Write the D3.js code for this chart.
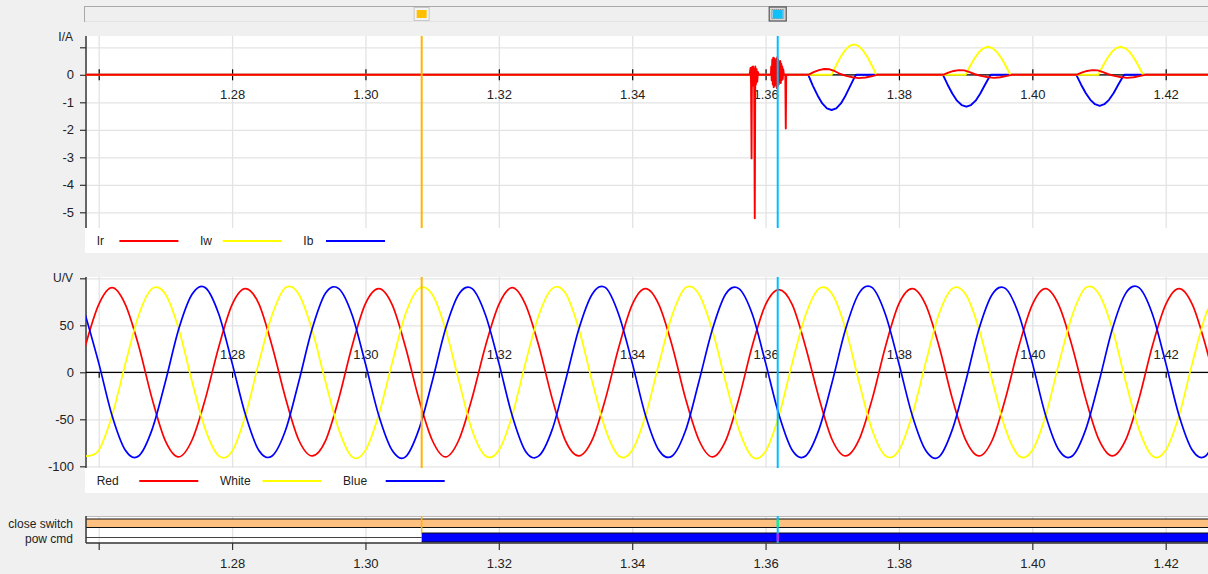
<!DOCTYPE html>
<html><head><meta charset="utf-8">
<script src="https://cdn.jsdelivr.net/npm/d3@7"></script>
<style>
html,body{margin:0;padding:0;background:#f0f0f0;overflow:hidden;}
svg{display:block;font-family:"Liberation Sans",Arial,sans-serif;}
</style></head><body><svg id="c" width="1208" height="574"></svg>
<script>
// ---------------- DATA ----------------
const xTicks = [1.26, 1.28, 1.30, 1.32, 1.34, 1.36, 1.38, 1.40, 1.42];
const xTickLabels = ["", "1.28", "1.30", "1.32", "1.34", "1.36", "1.38", "1.40", "1.42"];
const iTicks = [1, 0, -1, -2, -3, -4, -5];
const iTickLabels = ["", "0", "-1", "-2", "-3", "-4", "-5"];
const uTicks = [100, 50, 0, -50, -100];
const uTickLabels = ["", "50", "0", "-50", "-100"];
const currentNames = ["Ir", "Iw", "Ib"];
const voltageNames = ["Red", "White", "Blue"];
const digitalNames = ["close switch", "pow cmd"];
const cursorTimes = [1.30843, 1.36182];

const voltTime = [1.258,1.260,1.262,1.264,1.266,1.268,1.270,1.272,1.274,1.276,
1.278,1.280,1.282,1.284,1.286,1.288,1.290,1.292,1.294,1.296,
1.298,1.300,1.302,1.304,1.306,1.308,1.310,1.312,1.314,1.316,
1.318,1.320,1.322,1.324,1.326,1.328,1.330,1.332,1.334,1.336,
1.338,1.340,1.342,1.344,1.346,1.348,1.350,1.352,1.354,1.356,
1.358,1.360,1.362,1.364,1.366,1.368,1.370,1.372,1.374,1.376,
1.378,1.380,1.382,1.384,1.386,1.388,1.390,1.392,1.394,1.396,
1.398,1.400,1.402,1.404,1.406,1.408,1.410,1.412,1.414,1.416,
1.418,1.420,1.422,1.424,1.426,1.428];
const uRed = [28,72,90,72,28,-28,-73,-90,-72,-28,
27,72,89,73,28,-27,-72,-89,-73,-28,
28,73,89,72,27,-28,-72,-90,-72,-27,
28,72,90,72,28,-28,-73,-89,-72,-28,
27,72,89,72,28,-28,-72,-90,-73,-28,
28,72,88,72,27,-27,-72,-89,-72,-28,
28,73,89,72,28,-28,-72,-89,-72,-27,
28,72,89,71,27,-28,-72,-89,-72,-28,
28,72,89,72,28,-28];
const uWhite = [-89,-83,-46,9,61,89,83,46,-10,-61,
-89,-84,-46,10,61,90,83,45,-10,-61,
-90,-83,-45,10,62,89,83,46,-9,-62,
-89,-83,-46,10,61,89,84,46,-10,-61,
-89,-83,-46,9,61,90,83,45,-10,-61,
-90,-84,-46,10,61,89,83,46,-10,-62,
-89,-83,-45,10,62,89,83,46,-9,-61,
-89,-83,-46,10,61,90,83,46,-10,-61,
-89,-83,-46,10,61,89];
const uBlue = [61,10,-46,-83,-89,-61,-10,46,83,90,
62,10,-45,-83,-89,-62,-10,46,84,89,
61,9,-46,-83,-90,-61,-10,46,83,89,
61,10,-46,-84,-89,-61,-9,46,83,90,
61,10,-46,-83,-89,-62,-10,45,83,89,
62,10,-45,-83,-89,-61,-10,46,84,90,
61,9,-46,-83,-90,-61,-10,46,83,89,
61,10,-46,-83,-89,-61,-10,46,84,90,
62,10,-46,-83,-89,-61];

const irTime = [1.2575, 1.3576, 1.35775, 1.35782, 1.35790, 1.35796, 1.35805, 1.35812, 1.35820, 1.35828, 1.35838, 1.35846, 1.35855, 1.35865, 1.35875, 1.35885, 1.3590,
1.3608, 1.36085, 1.36092, 1.36100, 1.36108, 1.36115, 1.36122, 1.36130, 1.36138, 1.36145, 1.36152, 1.36160, 1.36168, 1.36175, 1.36182, 1.36190, 1.36198, 1.36205, 1.36212, 1.36220, 1.36228, 1.36235, 1.36242, 1.36250, 1.36258, 1.36265, 1.36275, 1.36296, 1.36303, 1.36310,
1.3664, 1.3672, 1.3680, 1.3688, 1.3696, 1.3704, 1.3712, 1.3721, 1.3730, 1.3740, 1.3750, 1.3760, 1.3767,
1.3866, 1.3874, 1.3882, 1.3890, 1.3898, 1.3906, 1.3914, 1.3923, 1.3932, 1.3942, 1.3952, 1.3962, 1.3969,
1.4066, 1.4074, 1.4082, 1.4090, 1.4098, 1.4106, 1.4114, 1.4123, 1.4132, 1.4142, 1.4152, 1.4162, 1.4169,
1.4275];
const irValue = [0, 0, 0.25, -0.3, -3.04, 0.28, -0.32, 0.3, -0.4, 0.22, -5.22, 0.3, -0.35, 0.2, -0.25, 0.1, 0,
0, 0.3, -0.2, 0.55, -0.35, 0.62, -0.45, 0.6, -0.4, 0.5, -0.3, 0.58, -0.48, 0.64, -0.42, 0.55, -0.35, 0.45, -0.25, 0.5, -0.3, 0.4, -0.2, 0.3, -0.15, 0.2, 0, 0, -1.95, 0,
0, 0.1, 0.17, 0.21, 0.2, 0.13, 0.03, -0.04, -0.09, -0.12, -0.1, -0.05, 0,
0, 0.08, 0.14, 0.17, 0.16, 0.1, 0.02, -0.04, -0.08, -0.11, -0.09, -0.04, 0,
0, 0.08, 0.14, 0.17, 0.16, 0.1, 0.02, -0.04, -0.08, -0.11, -0.09, -0.04, 0,
0];
const iwTime = [1.2575, 1.3699, 1.37057, 1.37124, 1.37191, 1.37258, 1.37325, 1.37392, 1.37459, 1.37526, 1.37593, 1.3766,
1.3900, 1.39067, 1.39134, 1.39201, 1.39268, 1.39335, 1.39402, 1.39469, 1.39536, 1.39603, 1.3967,
1.4099, 1.41057, 1.41124, 1.41191, 1.41258, 1.41325, 1.41392, 1.41459, 1.41526, 1.41593, 1.4166, 1.4275];
const iwValue = [0, 0, 0.34, 0.65, 0.89, 1.05, 1.11, 1.05, 0.89, 0.65, 0.34, 0,
0, 0.32, 0.6, 0.83, 0.97, 1.02, 0.97, 0.83, 0.6, 0.32, 0,
0, 0.32, 0.6, 0.83, 0.97, 1.02, 0.97, 0.83, 0.6, 0.32, 0, 0];
const ibTime = [1.2575, 1.3664, 1.3671, 1.3678, 1.3685, 1.3692, 1.3699, 1.3706, 1.3713, 1.3720, 1.3727, 1.3734, 1.3736,
1.3866, 1.3873, 1.3880, 1.3887, 1.3894, 1.3901, 1.3908, 1.3915, 1.3922, 1.3929, 1.3936, 1.3938,
1.4066, 1.4073, 1.4080, 1.4087, 1.4094, 1.4101, 1.4108, 1.4115, 1.4122, 1.4129, 1.4136, 1.4138, 1.4275];
const ibValue = [0, 0, -0.40, -0.75, -1.04, -1.22, -1.28, -1.22, -1.04, -0.75, -0.40, -0.06, 0,
0, -0.36, -0.68, -0.94, -1.10, -1.16, -1.10, -0.94, -0.68, -0.36, -0.06, 0,
0, -0.35, -0.66, -0.91, -1.07, -1.13, -1.07, -0.91, -0.66, -0.35, -0.06, 0, 0];

const closeSwitchTime = [1.2575];
const closeSwitchState = [1];
const powCmdTime = [1.2575, 1.30843];
const powCmdState = [0, 1];
const digitalEnd = 1.4275;

// ---------------- LAYOUT ----------------
const W = 1208, H = 574, L = 86, R = 1208;
const P1 = {top: 36, bottom: 228, legB: 253};
const P2 = {top: 277, bottom: 468, legB: 493};
const PD = {top: 516, bottom: 543};
const GRID = "#e3e3e3", AX = "#333", TXT = "#222";
const cRed = "#ff0000", cYel = "#ffff00", cBlue = "#0000ff";
const cursorCols = ["#ffb400", "#00bfff"];

const x = d3.scaleLinear().domain([1.26, 1.42]).range([98.7, 1165.7]);
const yI = d3.scaleLinear().domain([0, -5]).range([74.8, 212.3]);
const yU = d3.scaleLinear().domain([0, -100]).range([372.3, 466.3]);

const svg = d3.select("#c");
svg.append("rect").attr("width", W).attr("height", H).attr("fill", "#f0f0f0");

const defs = svg.append("defs");
function clip(id, top, bottom) {
  defs.append("clipPath").attr("id", id).append("rect")
    .attr("x", L).attr("y", top).attr("width", R - L).attr("height", bottom - top);
}
clip("c1", P1.top, P1.bottom); clip("c2", P2.top, P2.bottom);

// ---- scrollbar ----
const sb = svg.append("g");
sb.append("rect").attr("x", 84.5).attr("y", 6.5).attr("width", 1130).attr("height", 15)
  .attr("fill", "#efefef").attr("stroke", "#a9a9a9");
sb.append("line").attr("x1", 85).attr("x2", R).attr("y1", 21.5).attr("y2", 21.5).attr("stroke", "#e4e4e4");
// cursor markers
const cx0 = x(cursorTimes[0]);
sb.append("rect").attr("x", cx0 - 7.5).attr("y", 7.5).attr("width", 15).attr("height", 13)
  .attr("fill", "#f4f4f4").attr("stroke", "#c8c8c8");
sb.append("rect").attr("x", cx0 - 5).attr("y", 10).attr("width", 10).attr("height", 8).attr("fill", "#ffc000");
const cx1 = x(cursorTimes[1]);
sb.append("rect").attr("x", cx1 - 8.5).attr("y", 7).attr("width", 17).attr("height", 14)
  .attr("fill", "#d8d8d8").attr("stroke", "#555").attr("stroke-width", 1.2);
sb.append("rect").attr("x", cx1 - 6).attr("y", 9.5).attr("width", 12).attr("height", 9)
  .attr("fill", "none").attr("stroke", "#777").attr("stroke-dasharray", "1,1");
sb.append("rect").attr("x", cx1 - 5).attr("y", 10).attr("width", 10).attr("height", 8.5).attr("fill", "#10c0f8");

// ---- generic panel ----
function panel(top, bottom, legB, y, ticks, labels, unit) {
  const g = svg.append("g");
  g.append("rect").attr("x", L - 1).attr("y", top).attr("width", R - L + 1).attr("height", legB - top).attr("fill", "#fff");
  // grid vertical
  g.append("g").attr("transform", `translate(0,${bottom})`)
    .call(d3.axisBottom(x).tickValues(xTicks).tickSize(-(bottom - top)).tickFormat(""))
    .call(s => { s.select(".domain").remove(); s.selectAll("line").attr("stroke", GRID).attr("stroke-width", 1.3); });
  // grid horizontal
  g.append("g").attr("transform", `translate(${L},0)`)
    .call(d3.axisLeft(y).tickValues(ticks).tickSize(-(R - L)).tickFormat(""))
    .call(s => { s.select(".domain").remove(); s.selectAll("line").attr("stroke", GRID).attr("stroke-width", 1.3); });
  // y axis
  g.append("g").attr("transform", `translate(${L},0)`)
    .call(d3.axisLeft(y).tickValues(ticks).tickSize(6).tickPadding(6).tickFormat((d, i) => labels[i]))
    .call(s => {
      s.select(".domain").remove();
      s.selectAll("line").attr("stroke", AX).attr("stroke-width", 1.2);
      s.selectAll("text").attr("fill", TXT).style("font-size", "13px").attr("font-family", null);
    });
  g.append("line").attr("x1", L).attr("x2", L).attr("y1", top).attr("y2", bottom).attr("stroke", AX).attr("stroke-width", 1.5);
  g.append("text").attr("x", 73).attr("y", top + 1).attr("dy", "0.35em").attr("text-anchor", "end")
    .attr("fill", TXT).style("font-size", "12px").text(unit);
  return g;
}

function xAxisAt(g, yPos, tickUp, tickDown, labelOffset) {
  g.append("line").attr("x1", L).attr("x2", R).attr("y1", yPos).attr("y2", yPos).attr("stroke", "#000").attr("stroke-width", 1.2);
  g.append("g").attr("transform", `translate(0,${yPos})`)
    .call(d3.axisBottom(x).tickValues(xTicks).tickSize(tickDown).tickFormat((d, i) => xTickLabels[i]))
    .call(s => {
      s.select(".domain").remove();
      s.selectAll("line").attr("y1", -tickUp).attr("stroke", "#000").attr("stroke-width", 1.2);
      s.selectAll("text").attr("y", labelOffset).attr("dy", "0.35em").attr("fill", TXT)
        .style("font-size", "13px").attr("font-family", null);
    });
}

function legend(g, yPos, names, colors, lineOff) {
  let x0 = 96.7;
  names.forEach((n, i) => {
    g.append("text").attr("x", x0).attr("y", yPos).attr("dy", "0.35em").attr("fill", TXT)
      .style("font-size", "12px").text(n);
    g.append("line").attr("x1", x0 + lineOff).attr("x2", x0 + lineOff + 59).attr("y1", yPos).attr("y2", yPos)
      .attr("stroke", colors[i]).attr("stroke-width", 1.8);
    x0 += lineOff + 59 + 21.6;
  });
}

// ---- Panel 1: currents ----
const g1 = panel(P1.top, P1.bottom, P1.legB, yI, iTicks, iTickLabels, "I/A");
xAxisAt(g1, yI(0), 5.5, 5.5, 19.3);
const lineI = d3.line().x(d => x(d[0])).y(d => yI(d[1])).curve(d3.curveLinear);
const s1 = g1.append("g").attr("clip-path", "url(#c1)");
[[ibTime, ibValue, cBlue], [iwTime, iwValue, cYel], [irTime, irValue, cRed]].forEach(([t, v, c]) => {
  s1.append("path").attr("d", lineI(t.map((tt, i) => [tt, v[i]])))
    .attr("fill", "none").attr("stroke", c).attr("stroke-width", 1.9).attr("stroke-linejoin", "round");
});
legend(g1, 241, currentNames, [cRed, cYel, cBlue], 22.7);

// ---- Panel 2: voltages ----
const g2 = panel(P2.top, P2.bottom, P2.legB, yU, uTicks, uTickLabels, "U/V");
xAxisAt(g2, yU(0), 0, 5.5, -18.3);
const lineU = d3.line().x(d => x(d[0])).y(d => yU(d[1])).curve(d3.curveCardinal.tension(0));
const s2 = g2.append("g").attr("clip-path", "url(#c2)");
[[uRed, cRed], [uWhite, cYel], [uBlue, cBlue]].forEach(([v, c]) => {
  s2.append("path").attr("d", lineU(voltTime.map((t, i) => [t, v[i]])))
    .attr("fill", "none").attr("stroke", c).attr("stroke-width", 1.7);
});
legend(g2, 481, voltageNames, [cRed, cYel, cBlue], 42.6);

// ---- Digital panel ----
const gd = svg.append("g");
gd.append("rect").attr("x", L - 1).attr("y", PD.top).attr("width", R - L + 1).attr("height", PD.bottom - PD.top).attr("fill", "#fff");
gd.append("g").attr("transform", `translate(0,${PD.bottom})`)
  .call(d3.axisBottom(x).tickValues(xTicks).tickSize(-(PD.bottom - PD.top)).tickFormat(""))
  .call(s => { s.select(".domain").remove(); s.selectAll("line").attr("stroke", GRID).attr("stroke-width", 1.3); });
gd.append("line").attr("x1", L).attr("x2", R).attr("y1", PD.top + 0.5).attr("y2", PD.top + 0.5).attr("stroke", "#bbb");

const rows = [
  {name: digitalNames[0], t: closeSwitchTime, s: closeSwitchState, y0: 519, y1: 527.5, color: "#ffc080", mid: 523},
  {name: digitalNames[1], t: powCmdTime, s: powCmdState, y0: 533, y1: 542, color: "#0000ff", mid: 537.5}
];
rows.forEach(r => {
  gd.append("text").attr("x", 73).attr("y", r.mid + 1).attr("dy", "0.35em").attr("text-anchor", "end")
    .attr("fill", TXT).style("font-size", "12px").text(r.name);
  r.t.forEach((t0, i) => {
    const t1 = i + 1 < r.t.length ? r.t[i + 1] : digitalEnd;
    const xa = Math.max(L, x(t0)), xb = Math.min(R, x(t1));
    if (r.s[i] === 1) {
      gd.append("rect").attr("x", xa).attr("y", r.y0).attr("width", xb - xa).attr("height", r.y1 - r.y0).attr("fill", r.color);
      gd.append("line").attr("x1", xa).attr("x2", xb).attr("y1", r.y0).attr("y2", r.y0).attr("stroke", "#111").attr("stroke-width", 1.2);
      gd.append("line").attr("x1", xa).attr("x2", xb).attr("y1", r.y1).attr("y2", r.y1).attr("stroke", "#111").attr("stroke-width", 1.2);
    } else {
      gd.append("line").attr("x1", xa).attr("x2", xb).attr("y1", r.mid).attr("y2", r.mid).attr("stroke", "#444").attr("stroke-width", 1.2);
    }
  });
});
gd.append("line").attr("x1", L).attr("x2", L).attr("y1", PD.top).attr("y2", PD.bottom).attr("stroke", AX).attr("stroke-width", 1.5);
gd.append("line").attr("x1", L).attr("x2", R).attr("y1", PD.bottom).attr("y2", PD.bottom).attr("stroke", AX).attr("stroke-width", 1.3);
gd.append("g").attr("transform", `translate(0,${PD.bottom})`)
  .call(d3.axisBottom(x).tickValues(xTicks).tickSize(7).tickFormat((d, i) => xTickLabels[i]))
  .call(s => {
    s.select(".domain").remove();
    s.selectAll("line").attr("stroke", AX).attr("stroke-width", 1.2);
    s.selectAll("text").attr("y", 20).attr("dy", "0.35em").attr("fill", TXT).style("font-size", "13px").attr("font-family", null);
  });

// ---- cursors ----
cursorTimes.forEach((t, i) => {
  const cx = x(t);
  [[P1.top, P1.bottom], [P2.top, P2.bottom]].forEach(([a, b]) => {
    svg.append("line").attr("x1", cx).attr("x2", cx).attr("y1", a).attr("y2", b)
      .attr("stroke", cursorCols[i]).attr("stroke-width", 2);
  });
});
// digital-panel cursor segments
const co = x(cursorTimes[0]);
svg.append("line").attr("x1", co).attr("x2", co).attr("y1", PD.top).attr("y2", 533).attr("stroke", cursorCols[0]).attr("stroke-width", 1.5);
const cc = x(cursorTimes[1]);
svg.append("line").attr("x1", cc).attr("x2", cc).attr("y1", PD.top).attr("y2", PD.bottom).attr("stroke", cursorCols[1]).attr("stroke-width", 2);
svg.append("line").attr("x1", cc).attr("x2", cc).attr("y1", 519.5).attr("y2", 527).attr("stroke", "#00ff80").attr("stroke-width", 2);
svg.append("line").attr("x1", cc).attr("x2", cc).attr("y1", 533.5).attr("y2", 541.5).attr("stroke", "#ff00ff").attr("stroke-width", 2);
</script></body></html>
